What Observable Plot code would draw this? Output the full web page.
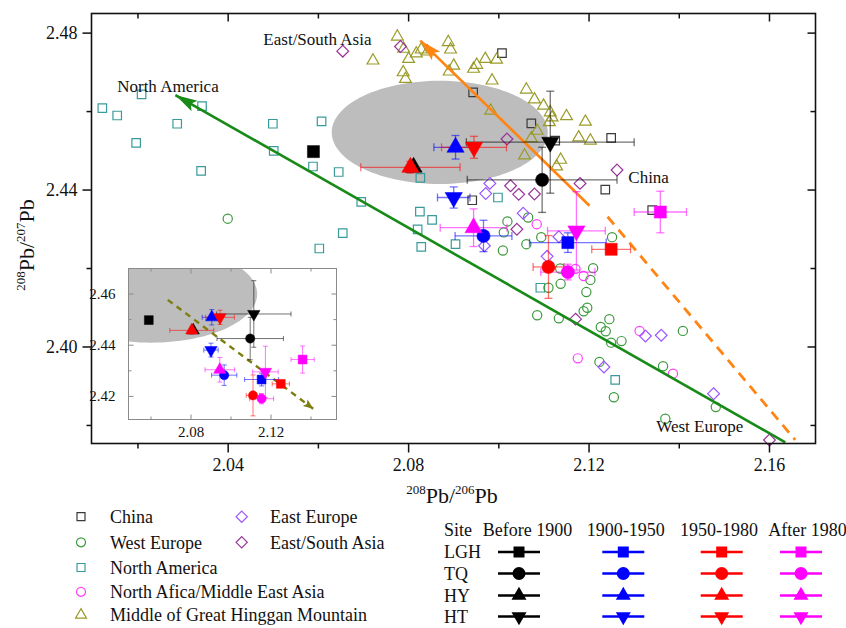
<!DOCTYPE html>
<html><head><meta charset="utf-8">
<script src="https://cdn.jsdelivr.net/npm/d3@7"></script>
<script src="https://cdn.jsdelivr.net/npm/@observablehq/plot@0.6"></script>
<style>
body{margin:0;background:#fff;}
#wrap{position:relative;width:846px;height:628px;overflow:hidden;font-family:"Liberation Serif","Times New Roman",serif;}
#wrap svg{position:absolute;overflow:visible;}
</style></head><body><div id="wrap"></div>
<script>
// ---------- background source data [208Pb/206Pb, 208Pb/207Pb] ----------
const china = [[2.1007,2.4749],[2.0943,2.4649],[2.1072,2.4570],[2.0941,2.4374],[2.1249,2.4533],[2.1236,2.4401],[2.1340,2.4349],[2.1125,2.4526]];
const westEurope = [[2.0399,2.4327],[2.1019,2.4320],[2.1065,2.4330],[2.1011,2.4292],[2.1009,2.4246],[2.1094,2.4280],[2.1061,2.4262],[2.1251,2.4280],[2.1136,2.4200],[2.1110,2.4151],[2.1137,2.4161],[2.1209,2.4201],[2.1203,2.4171],[2.1194,2.4140],[2.1196,2.4100],[2.1188,2.4091],[2.1085,2.4081],[2.1133,2.4073],[2.1245,2.4071],[2.1226,2.4051],[2.1237,2.4040],[2.1249,2.4011],[2.1272,2.4015],[2.1223,2.3962],[2.1255,2.3872],[2.1408,2.4041],[2.1364,2.3951],[2.1369,2.3817],[2.1481,2.3847]];
const northAmerica = [[2.0121,2.4609],[2.0154,2.4590],[2.0208,2.4644],[2.0196,2.4520],[2.0287,2.4569],[2.0342,2.4614],[2.0340,2.4449],[2.0499,2.4569],[2.0501,2.4500],[2.0607,2.4575],[2.0588,2.4460],[2.0645,2.4446],[2.0654,2.4290],[2.0602,2.4251],[2.0826,2.4431],[2.0695,2.4370],[2.0825,2.4345],[2.0852,2.4324],[2.0820,2.4300],[2.0828,2.4255],[2.0904,2.4262],[2.0998,2.4381],[2.1092,2.4151],[2.1258,2.3916]];
const northAfrica = [[2.1084,2.4313],[2.1170,2.4199],[2.1188,2.4181],[2.1175,2.3971],[2.1312,2.4041],[2.1386,2.3932]];
const hinggan = [[2.0775,2.4791],[2.0721,2.4730],[2.0789,2.4760],[2.0800,2.4734],[2.0788,2.4700],[2.0793,2.4683],[2.0817,2.4748],[2.0828,2.4758],[2.0842,2.4753],[2.0888,2.4777],[2.0893,2.4758],[2.0900,2.4717],[2.0890,2.4702],[2.0944,2.4709],[2.0951,2.4719],[2.0970,2.4734],[2.0995,2.4732],[2.0985,2.4679],[2.1061,2.4656],[2.1079,2.4631],[2.1099,2.4615],[2.1114,2.4598],[2.1118,2.4585],[2.1112,2.4573],[2.1150,2.4588],[2.1192,2.4574],[2.0982,2.4602],[2.1085,2.4551],[2.1072,2.4532],[2.1177,2.4534],[2.1203,2.4526],[2.1057,2.4488],[2.1137,2.4477],[2.1128,2.4460]];
const eastEurope = [[2.0980,2.4417],[2.0971,2.4391],[2.1054,2.4341],[2.1133,2.4281],[2.1107,2.4231],[2.1233,2.3949],[2.1325,2.4028],[2.1360,2.4030],[2.1476,2.3881],[2.0968,2.4258]];
const eastSouthAsia = [[2.0654,2.4754],[2.0782,2.4766],[2.1018,2.4530],[2.1026,2.4411],[2.1044,2.4389],[2.1079,2.4390],[2.1040,2.4300],[2.1180,2.4417],[2.1262,2.4451],[2.1170,2.4071],[2.1600,2.3763]];

// ---------- site samples: rows LGH, TQ, HY, HT -> [x, y, xErr, yErr] ----------
const siteNames = ["LGH","TQ","HY","HT"];
const periodNames = ["Before 1900","1900-1950","1950-1980","After 1980"];
const periodColors = ["#000000","#0000ff","#ff0000","#ff00ff"];
const before1900 = [[2.0589,2.4498,0,0],[2.1096,2.4426,0.0166,0.0083],[2.0811,2.4458,0,0],[2.1114,2.4522,0.0186,0.0130]];
const p1900to1950 = [[2.1153,2.4266,0.0085,0.0025],[2.0966,2.4283,0.0063,0.0040],[2.0904,2.4509,0.0048,0.0030],[2.0900,2.4381,0.0036,0.0027]];
const p1950to1980 = [[2.1249,2.4249,0.0043,0.0010],[2.1110,2.4204,0.0034,0.0080],[2.0804,2.4458,0.0110,0.0015],[2.0945,2.4509,0.0072,0.0028]];
const after1980 = [[2.1358,2.4344,0.0058,0.0053],[2.1153,2.4191,0.0060,0.0020],[2.0944,2.4304,0.0074,0.0048],[2.1172,2.4296,0.0064,0.0100]];

// ---------- annotations ----------
const regionLabels = [["East/South Asia",2.0478,2.4784],["North America",2.0154,2.4664],["China",2.1287,2.4431],["West Europe",2.1349,2.3796]];
const greenArrow = [2.1635,2.3757,2.0283,2.4642];   // x1,y1 -> x2,y2 (head)
const orangeArrow = [2.1201,2.4360,2.0826,2.4781];
const orangeDashed = [2.1241,2.4332,2.1657,2.3763];
const ellipseMain = [2.0869,2.4547,0.02395,0.01315]; // cx, cy, rx, ry
const ellipseInset = [2.0600,2.4600,0.0531,0.0190];
const insetArrow = [2.0684,2.4577,2.1411,2.4152];

// axes
const xDomain = [2.0097,2.1702], yDomain = [2.3754,2.4850];
const xMajor = [2.04,2.08,2.12,2.16], xMinor = [2.02,2.06,2.10,2.14];
const yMajor = [2.40,2.44,2.48], yMinor = [2.38,2.42,2.46];
const ixDomain = [2.04875,2.15275], iyDomain = [2.41098,2.46996];
const ixMajor = [2.08,2.12], ixMinor = [2.06,2.10,2.14];
const iyMajor = [2.42,2.44,2.46], iyMinor = [2.43,2.45];

const C = {china:"#3a3a3a", we:"#3c9a3c", na:"#3a9a9a", naf:"#ff40ff", hg:"#9a9a28", ee:"#9955ff", esa:"#993399"};
const FONT = "Liberation Serif";

// ---------- helpers ----------
const pts = a => a.map(([x,y]) => ({x,y}));
const sites = [before1900,p1900to1950,p1950to1980,after1980].flatMap((rows,pi) =>
  rows.map((r,si) => ({site:siteNames[si], period:periodNames[pi], color:periodColors[pi], x:r[0], y:r[1], xe:r[2], ye:r[3]})));
const lineSym = {draw(ctx,size){const r=Math.sqrt(size/Math.PI); ctx.moveTo(0,-r); ctx.lineTo(0,r);}};
const tickSym = {draw(ctx,size){const r=Math.sqrt(size/Math.PI); ctx.moveTo(0,0); ctx.lineTo(0,r);}};
const headSym = (L,w) => ({draw(ctx){ctx.moveTo(0,0); ctx.lineTo(w,L); ctx.lineTo(0,L*0.8); ctx.lineTo(-w,L); ctx.closePath();}});
function ellipse([cx,cy,rx,ry], xd, yd){
  return d3.range(0,360,3).map(a => {const t=a*Math.PI/180;
    return {x: Math.max(xd[0],Math.min(xd[1],cx+rx*Math.cos(t))), y: Math.max(yd[0],Math.min(yd[1],cy+ry*Math.sin(t)))};});
}
function angle(seg, kx, ky){ // screen angle clockwise from up
  const dx=(seg[2]-seg[0])*kx, dy=-(seg[3]-seg[1])*ky;
  return Math.atan2(dx,-dy)*180/Math.PI;
}
function siteMarks(sz, cap, bw){
  const xb = sites.filter(d=>d.xe>0), yb = sites.filter(d=>d.ye>0);
  const shapes = {LGH:["square",sz.sq,0], TQ:["circle",sz.ci,0], HY:["triangle",sz.tr,0], HT:["triangle",sz.tr,180]};
  return [
    Plot.link(xb,{x1:d=>d.x-d.xe,x2:d=>d.x+d.xe,y1:"y",y2:"y",stroke:"color",strokeOpacity:0.55,strokeWidth:bw}),
    Plot.link(yb,{x1:"x",x2:"x",y1:d=>d.y-d.ye,y2:d=>d.y+d.ye,stroke:"color",strokeOpacity:0.55,strokeWidth:bw}),
    Plot.dot(xb.flatMap(d=>[{x:d.x-d.xe,y:d.y,c:d.color},{x:d.x+d.xe,y:d.y,c:d.color}]),{x:"x",y:"y",symbol:lineSym,r:cap,stroke:"c",fill:"none",strokeOpacity:0.55,strokeWidth:bw}),
    Plot.dot(yb.flatMap(d=>[{x:d.x,y:d.y-d.ye,c:d.color},{x:d.x,y:d.y+d.ye,c:d.color}]),{x:"x",y:"y",symbol:lineSym,rotate:90,r:cap,stroke:"c",fill:"none",strokeOpacity:0.55,strokeWidth:bw}),
    ...periodNames.flatMap(p => siteNames.map(s => {const [sym,r,rot]=shapes[s];
      return Plot.dot(sites.filter(d=>d.period===p && d.site===s),{x:"x",y:"y",symbol:sym,r,rotate:rot,fill:"color",stroke:"color",strokeWidth:0.5});}))
  ];
}
function tickMarks(xd, yd, xMaj, xMin, yMaj, yMin, o, color, sw){
  const mk = (vals, axis, at, rot, len) => Plot.dot(vals, axis==="x"
      ? {x:d=>d, y:()=>at, symbol:tickSym, r:len, rotate:rot, stroke:color, strokeWidth:sw, fill:"none"}
      : {y:d=>d, x:()=>at, symbol:tickSym, r:len, rotate:rot, stroke:color, strokeWidth:sw, fill:"none"});
  return [
    mk(xMaj,"x",yd[0],o.botRot,o.bM), mk(xMin,"x",yd[0],o.botRot,o.bm),
    mk(xMaj,"x",yd[1],0,o.tM), mk(xMin,"x",yd[1],0,o.tm),
    mk(yMaj,"y",xd[0],o.leftRot,o.bM), mk(yMin,"y",xd[0],o.leftRot,o.bm),
    mk(yMaj,"y",xd[1],90,o.tM), mk(yMin,"y",xd[1],90,o.tm)
  ];
}

const wrap = document.getElementById("wrap");

// ---------- main plot ----------
const W=846, H=628, mL=91, mR=31, mT=13, mB=185;
const kx = (W-mL-mR)/(xDomain[1]-xDomain[0]), ky = (H-mT-mB)/(yDomain[1]-yDomain[0]);
const main = Plot.plot({
  width:W, height:H, marginLeft:mL, marginRight:mR, marginTop:mT, marginBottom:mB,
  x:{domain:xDomain, axis:null}, y:{domain:yDomain, axis:null},
  color:{type:"identity"},
  style:{fontFamily:FONT, background:"transparent"},
  marks:[
    Plot.line(ellipse(ellipseMain,xDomain,yDomain),{x:"x",y:"y",fill:"#bdbdbd",stroke:"none",curve:"linear-closed"}),
    Plot.dot(pts(northAmerica),{x:"x",y:"y",symbol:"square",r:4.8,stroke:C.na,strokeWidth:1.2,fill:"none"}),
    Plot.dot(pts(china),{x:"x",y:"y",symbol:"square",r:4.8,stroke:C.china,strokeWidth:1.2,fill:"none"}),
    Plot.dot(pts(hinggan),{x:"x",y:"y",symbol:"triangle",r:4.4,stroke:C.hg,strokeWidth:1.2,fill:"none"}),
    Plot.dot(pts(westEurope),{x:"x",y:"y",symbol:"circle",r:4.6,stroke:C.we,strokeWidth:1.2,fill:"none"}),
    Plot.dot(pts(northAfrica),{x:"x",y:"y",symbol:"circle",r:4.6,stroke:C.naf,strokeWidth:1.2,fill:"none"}),
    Plot.dot(pts(eastEurope),{x:"x",y:"y",symbol:"diamond2",r:5.3,stroke:C.ee,strokeWidth:1.2,fill:"none"}),
    Plot.dot(pts(eastSouthAsia),{x:"x",y:"y",symbol:"diamond2",r:5.3,stroke:C.esa,strokeWidth:1.2,fill:"none"}),
    Plot.link([greenArrow],{x1:d=>d[0],y1:d=>d[1],x2:d=>d[2],y2:d=>d[3],stroke:"#178a17",strokeWidth:2.6}),
    Plot.dot([greenArrow],{x:d=>d[2],y:d=>d[3],symbol:headSym(22,6),rotate:angle(greenArrow,kx,ky),fill:"#178a17",stroke:"none"}),
    Plot.link([orangeArrow],{x1:d=>d[0],y1:d=>d[1],x2:d=>d[2],y2:d=>d[3],stroke:"#ff8412",strokeWidth:2.6}),
    Plot.dot([orangeArrow],{x:d=>d[2],y:d=>d[3],symbol:headSym(22,6),rotate:angle(orangeArrow,kx,ky),fill:"#ff8412",stroke:"none"}),
    Plot.link([orangeDashed],{x1:d=>d[0],y1:d=>d[1],x2:d=>d[2],y2:d=>d[3],stroke:"#ff8412",strokeWidth:2.8,strokeDasharray:"10,7"}),
    ...siteMarks({sq:6.8,ci:6.6,tr:6.4},4,1.3),
    Plot.text(regionLabels,{x:d=>d[1],y:d=>d[2],text:d=>d[0],textAnchor:"start",lineAnchor:"middle",fontSize:17,fontFamily:FONT,fill:"#111"}),
    Plot.frame({stroke:"#111",strokeWidth:1.6}),
    ...tickMarks(xDomain,yDomain,xMajor,xMinor,yMajor,yMinor,{bM:9,bm:5,tM:8,tm:5,botRot:0,leftRot:90},"#111",1.5),
    Plot.text(xMajor,{x:d=>d,y:()=>yDomain[0],text:d=>d.toFixed(2),dy:22,lineAnchor:"middle",fontSize:18,fontFamily:FONT,fill:"#111"}),
    Plot.text(yMajor,{y:d=>d,x:()=>xDomain[0],text:d=>d.toFixed(2),dx:-14,textAnchor:"end",lineAnchor:"middle",fontSize:18,fontFamily:FONT,fill:"#111"})
  ]
});
main.style.left="0px"; main.style.top="0px";
wrap.append(main);

function isoLabel(sel, parts){
  const t = sel.append("text").attr("font-family",FONT).attr("fill","#111").attr("text-anchor","middle");
  let up=false;
  parts.forEach(([s,sup])=>{
    const ts=t.append("tspan").text(s).attr("font-size",sup?13:22);
    if(sup && !up){ts.attr("dy",-9); up=true;} else if(!sup && up){ts.attr("dy",9); up=false;}
  });
  return t;
}
const ms = d3.select(main);
isoLabel(ms,[["208",1],["Pb/",0],["206",1],["Pb",0]]).attr("transform","translate(452,503)");
isoLabel(ms,[["208",1],["Pb/",0],["207",1],["Pb",0]]).attr("transform","translate(34,245) rotate(-90)");

// ---------- inset ----------
const iL=40, iR=10, iT=5, iB=25, iW=iL+208+iR, iH=iT+151+iB;
const ikx=208/(ixDomain[1]-ixDomain[0]), iky=151/(iyDomain[1]-iyDomain[0]);
const inset = Plot.plot({
  width:iW, height:iH, marginLeft:iL, marginRight:iR, marginTop:iT, marginBottom:iB,
  x:{domain:ixDomain, axis:null}, y:{domain:iyDomain, axis:null},
  color:{type:"identity"},
  style:{fontFamily:FONT, background:"transparent"},
  marks:[
    Plot.frame({fill:"white",stroke:"none"}),
    Plot.line(ellipse(ellipseInset,ixDomain,iyDomain),{x:"x",y:"y",fill:"#bdbdbd",stroke:"none",curve:"linear-closed"}),
    Plot.link([insetArrow],{x1:d=>d[0],y1:d=>d[1],x2:d=>d[2],y2:d=>d[3],stroke:"#7d7d10",strokeWidth:2.4,strokeDasharray:"6,5"}),
    Plot.dot([insetArrow],{x:d=>d[2],y:d=>d[3],symbol:headSym(10,4),rotate:angle(insetArrow,ikx,iky),fill:"#7d7d10",stroke:"none"}),
    ...siteMarks({sq:5,ci:4.6,tr:4.6},2.5,1),
    Plot.frame({stroke:"#8a8a8a",strokeWidth:1}),
    ...tickMarks(ixDomain,iyDomain,ixMajor,ixMinor,iyMajor,iyMinor,{bM:5,bm:3,tM:5,tm:3,botRot:180,leftRot:-90},"#8a8a8a",1),
    Plot.text(ixMajor,{x:d=>d,y:()=>iyDomain[0],text:d=>d.toFixed(2),dy:13,lineAnchor:"middle",fontSize:15,fontFamily:FONT,fill:"#111"}),
    Plot.text(iyMajor,{y:d=>d,x:()=>ixDomain[0],text:d=>d.toFixed(2),dx:-13,textAnchor:"end",lineAnchor:"middle",fontSize:15,fontFamily:FONT,fill:"#111"})
  ]
});
inset.style.left=(128-iL)+"px"; inset.style.top=(268-iT)+"px";
wrap.append(inset);

// ---------- legends ----------
const lg = d3.create("svg").attr("width",846).attr("height",138).style("left","0px").style("top","490px");
const symPath = (name,size)=>d3.symbol(name,size)();
const srcLegend = [
  ["China",d3.symbolSquare,64,C.china,0,0],["West Europe",d3.symbolCircle,64,C.we,0,1],["North America",d3.symbolSquare,64,C.na,0,2],
  ["North Afica/Middle East Asia",d3.symbolCircle,64,C.naf,0,3],["Middle of Great Hinggan Mountain",d3.symbolTriangle,52,C.hg,0,4],
  ["East Europe",d3.symbolDiamond2,80,C.ee,1,0],["East/South Asia",d3.symbolDiamond2,80,C.esa,1,1]
];
const rowsY=[26.7,52.3,77.5,101.8,125], symX=[81,241.7], txtX=[110,270];
srcLegend.forEach(([lab,sym,size,col,c,r])=>{
  lg.append("path").attr("d",symPath(sym,size)).attr("transform",`translate(${symX[c]},${rowsY[r]})`).attr("fill","none").attr("stroke",col).attr("stroke-width",1.2);
  lg.append("text").attr("x",txtX[c]).attr("y",rowsY[r]).attr("dy","0.35em").attr("font-family",FONT).attr("font-size",18).attr("fill","#111").text(lab);
});
const hdrY=40, siteRowY=[62,83.5,105.5,126.5], colCX=[519,623.3,721.7,801];
[["Site",444],["Before 1900",482.7],["1900-1950",586.7],["1950-1980",680],["After 1980",768.3]].forEach(([t,x])=>
  lg.append("text").attr("x",x).attr("y",hdrY).attr("dy","0.35em").attr("font-family",FONT).attr("font-size",18).attr("fill","#111").text(t));
const siteSym = {LGH:[d3.symbolSquare,121,0],TQ:[d3.symbolCircle,133,0],HY:[d3.symbolTriangle,97,0],HT:[d3.symbolTriangle,97,180]};
siteNames.forEach((s,ri)=>{
  const y=siteRowY[ri];
  lg.append("text").attr("x",444).attr("y",y).attr("dy","0.35em").attr("font-family",FONT).attr("font-size",18).attr("fill","#111").text(s);
  periodColors.forEach((col,ci)=>{
    const cx=colCX[ci];
    lg.append("line").attr("x1",cx-21).attr("x2",cx+21).attr("y1",y).attr("y2",y).attr("stroke",col).attr("stroke-width",2.5);
    const [sym,size,rot]=siteSym[s];
    lg.append("path").attr("d",symPath(sym,size)).attr("transform",`translate(${cx},${y}) rotate(${rot})`).attr("fill",col);
  });
});
wrap.append(lg.node());
</script>
</body></html>
